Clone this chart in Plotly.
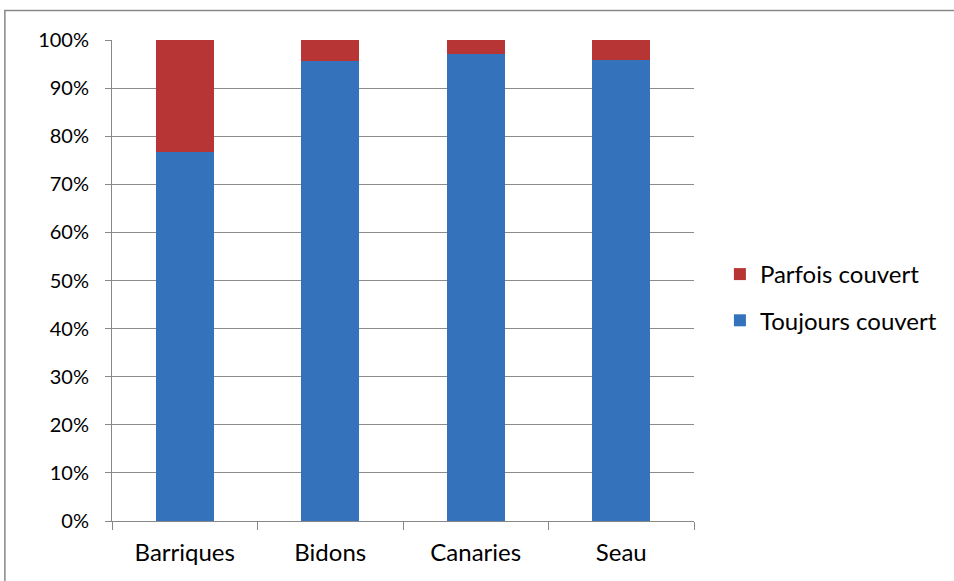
import plotly.graph_objects as go

categories = ["Barriques", "Bidons", "Canaries", "Seau"]
toujours = [76.8, 95.6, 97.0, 95.8]
parfois = [23.2, 4.4, 3.0, 4.2]
y_ticks = [0, 10, 20, 30, 40, 50, 60, 70, 80, 90, 100]
y_labels = [f"{v}%" for v in y_ticks]

W, H = 954, 581
L, R, T, B = 112, 258, 40, 60

fig = go.Figure()
fig.add_trace(go.Bar(
    name="Toujours couvert", x=categories, y=toujours,
    marker=dict(color="#3572BC", line=dict(width=0)),
    legendrank=2, legendgroup="t",
))
fig.add_trace(go.Bar(
    name="Parfois couvert", x=categories, y=parfois,
    marker=dict(color="#B83535", line=dict(width=0)),
    legendrank=1, legendgroup="p",
))

pw = W - L - R
ph = H - T - B
fig.update_layout(
    width=W, height=H,
    barmode="stack", bargap=0.6,
    margin=dict(l=L, r=R, t=T, b=B),
    paper_bgcolor="white", plot_bgcolor="white",
    font=dict(family="Lato, Noto Sans, sans-serif", size=20, color="#000000"),
    showlegend=True,
    legend=dict(
        x=(722 - L) / pw, y=(521 - 252) / ph, xanchor="left", yanchor="top",
        traceorder="grouped", tracegroupgap=12,
        font=dict(size=24), itemwidth=30,
    ),
    xaxis=dict(
        type="category", tickson="boundaries", ticks="outside", ticklen=8,
        tickcolor="#888888", showline=True, linecolor="#888888", linewidth=1,
        showgrid=False, tickfont=dict(size=24), ticklabelstandoff=10,
    ),
    yaxis=dict(
        range=[0, 100], tickvals=y_ticks, ticktext=y_labels,
        ticks="outside", ticklen=6, tickcolor="#888888",
        showline=True, linecolor="#888888", linewidth=1,
        showgrid=True, gridcolor="#8C8C8C", gridwidth=1,
        zeroline=False, tickfont=dict(size=20), ticklabelstandoff=12,
    ),
    shapes=[dict(
        type="rect", xref="paper", yref="paper",
        x0=(4.5 - L) / pw, x1=(990 - L) / pw,
        y0=(521 - 620) / ph, y1=(521 - 10.5) / ph,
        line=dict(color="#888888", width=1.5), layer="below",
    )],
)

fig.write_html(
    "out.html",
    config={"displayModeBar": False},
    post_script="document.body.style.margin='0';document.body.style.overflow='hidden';",
)
